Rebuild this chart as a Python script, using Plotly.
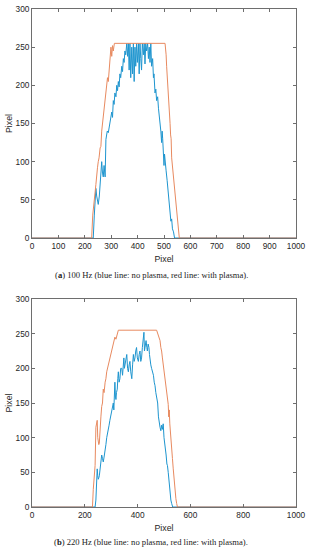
import plotly.graph_objects as go

# ---- data ----
top_orange_x = [0, 226, 230, 233, 236, 239, 242, 245, 248, 251, 254, 258, 261, 264, 267, 270, 273, 277, 280, 283, 286, 289, 293, 296, 299, 302, 305, 308, 312, 504, 506, 508, 510, 513, 516, 518, 520, 523, 525, 527, 529, 532, 535, 538, 542, 545, 548, 551, 554, 558, 1000]
top_orange_y = [0, 0, 30, 38, 45, 60, 70, 88, 92, 100, 105, 118, 120, 140, 150, 163, 168, 180, 192, 200, 210, 205, 225, 240, 250, 238, 252, 245, 255, 255, 250, 240, 225, 210, 195, 185, 175, 150, 135, 130, 105, 95, 85, 70, 62, 50, 42, 30, 18, 0, 0]

top_blue_x = [0, 232, 236, 239, 242, 245, 248, 251, 255, 258, 261, 264, 267, 270, 273, 277, 280, 283, 285, 289, 292, 295, 298, 302, 305, 308, 311, 314, 318, 321, 324, 327, 330, 333, 336, 340, 343, 346, 349, 352, 355, 359, 362, 365, 368, 371, 374, 378, 381, 384, 387, 390, 393, 396, 399, 403, 406, 409, 412, 415, 418, 422, 425, 428, 431, 434, 438, 441, 444, 447, 450, 453, 457, 460, 462, 466, 469, 472, 476, 479, 482, 485, 488, 491, 493, 495, 497, 500, 502, 504, 508, 512, 516, 520, 523, 526, 529, 532, 536, 540, 1000]
top_blue_y = [0, 0, 30, 55, 65, 55, 45, 44, 55, 70, 85, 100, 85, 80, 95, 80, 129, 135, 140, 138, 145, 150, 160, 165, 158, 180, 175, 190, 185, 200, 193, 205, 198, 215, 210, 225, 218, 235, 230, 245, 240, 255, 238, 255, 220, 255, 210, 250, 215, 255, 205, 250, 225, 255, 230, 255, 215, 255, 235, 220, 255, 240, 255, 228, 255, 245, 255, 235, 250, 230, 255, 225, 235, 210, 215, 190, 195, 180, 185, 170, 160, 155, 140, 125, 140, 130, 110, 95, 110, 100, 88, 75, 60, 45, 30, 22, 25, 12, 8, 0, 0]

bot_orange_x = [0, 229, 232, 235, 237, 239, 242, 244, 247, 249, 251, 253, 255, 258, 261, 264, 267, 270, 273, 277, 280, 283, 286, 289, 292, 295, 298, 302, 305, 308, 311, 314, 318, 321, 324, 327, 472, 476, 479, 482, 485, 488, 491, 494, 497, 500, 504, 507, 510, 513, 516, 518, 520, 522, 525, 527, 529, 532, 535, 538, 542, 545, 548, 551, 1000]
bot_orange_y = [0, 0, 25, 50, 45, 60, 115, 120, 125, 100, 94, 90, 92, 120, 130, 145, 150, 170, 165, 180, 185, 195, 200, 205, 210, 215, 222, 225, 232, 235, 240, 245, 242, 248, 250, 255, 255, 250, 245, 243, 240, 230, 225, 215, 205, 195, 185, 175, 165, 150, 148, 130, 140, 120, 100, 95, 82, 70, 55, 40, 25, 12, 5, 0, 0]

bot_blue_x = [0, 239, 242, 245, 247, 249, 251, 253, 255, 258, 261, 264, 267, 270, 273, 277, 280, 283, 286, 289, 292, 295, 298, 302, 305, 308, 310, 312, 314, 316, 318, 320, 323, 325, 327, 330, 333, 336, 340, 343, 346, 348, 350, 352, 355, 359, 362, 365, 368, 371, 374, 378, 381, 384, 387, 390, 393, 396, 399, 403, 406, 409, 412, 415, 418, 422, 424, 426, 429, 432, 435, 437, 440, 443, 445, 447, 450, 453, 456, 460, 463, 466, 469, 472, 476, 479, 482, 485, 488, 491, 494, 497, 500, 504, 506, 508, 511, 513, 516, 518, 520, 523, 526, 529, 533, 1000]
bot_blue_y = [0, 0, 10, 30, 55, 45, 40, 42, 45, 55, 68, 75, 70, 65, 72, 80, 90, 100, 105, 110, 118, 125, 130, 140, 145, 150, 140, 165, 180, 160, 155, 165, 170, 185, 195, 180, 185, 200, 200, 190, 205, 215, 200, 205, 210, 220, 200, 195, 205, 210, 195, 185, 205, 220, 210, 215, 225, 230, 215, 210, 220, 225, 210, 215, 230, 245, 252, 225, 235, 240, 230, 225, 235, 230, 220, 210, 205, 200, 195, 190, 180, 175, 165, 160, 150, 130, 120, 115, 110, 118, 112, 120, 100, 90, 80, 75, 62, 60, 50, 40, 30, 15, 10, 5, 0, 0]

x_ticks_top = [0, 100, 200, 300, 400, 500, 600, 700, 800, 900, 1000]
x_ticks_bot = [0, 200, 400, 600, 800, 1000]
y_ticks = [0, 50, 100, 150, 200, 250, 300]

caption_a = "(<b>a</b>) 100 Hz (blue line: no plasma, red line: with plasma)."
caption_b = "(<b>b</b>) 220 Hz (blue line: no plasma, red line: with plasma)."

BLUE = "#1e95cf"
ORANGE = "#e88a60"

fig = go.Figure()
fig.add_trace(go.Scatter(x=top_blue_x, y=top_blue_y, mode="lines",
                         line=dict(color=BLUE, width=1), xaxis="x", yaxis="y"))
fig.add_trace(go.Scatter(x=top_orange_x, y=top_orange_y, mode="lines",
                         line=dict(color=ORANGE, width=1), xaxis="x", yaxis="y"))
fig.add_trace(go.Scatter(x=bot_blue_x, y=bot_blue_y, mode="lines",
                         line=dict(color=BLUE, width=1), xaxis="x2", yaxis="y2"))
fig.add_trace(go.Scatter(x=bot_orange_x, y=bot_orange_y, mode="lines",
                         line=dict(color=ORANGE, width=1), xaxis="x2", yaxis="y2"))

W, H = 309, 550
xdom = [32 / W, 296 / W]
ydom_top = [1 - 238 / H, 1 - 9 / H]
ydom_bot = [1 - 507 / H, 1 - 299 / H]

tickfont = dict(family="Liberation Sans, Arial, sans-serif", size=8.3, color="#262626")
titlefont = dict(family="Liberation Sans, Arial, sans-serif", size=8.8, color="#262626")
common = dict(showgrid=False, zeroline=False, showline=True, linecolor="#6e6e6e",
              linewidth=0.8, mirror="ticks", ticks="inside", ticklen=3,
              tickcolor="#6e6e6e", tickwidth=0.8, tickfont=tickfont, automargin=False)

fig.update_layout(
    template="none",
    width=W, height=H,
    margin=dict(l=0, r=0, t=0, b=0),
    paper_bgcolor="white", plot_bgcolor="white",
    showlegend=False,
    xaxis=dict(domain=xdom, anchor="y", range=[0, 1000], tickvals=x_ticks_top,
               title=dict(text="Pixel", font=titlefont, standoff=5), **common),
    yaxis=dict(domain=ydom_top, anchor="x", range=[0, 300], tickvals=y_ticks,
               title=dict(text="Pixel", font=titlefont, standoff=1), **common),
    xaxis2=dict(domain=xdom, anchor="y2", range=[0, 1000], tickvals=x_ticks_bot,
                title=dict(text="Pixel", font=titlefont, standoff=5), **common),
    yaxis2=dict(domain=ydom_bot, anchor="x2", range=[0, 300], tickvals=y_ticks,
                title=dict(text="Pixel", font=titlefont, standoff=1), **common),
    annotations=[
        dict(text=caption_a, xref="paper", yref="paper", x=0.49, y=1 - 275 / H,
             showarrow=False, xanchor="center", yanchor="middle",
             font=dict(family="Liberation Serif, Times New Roman, serif", size=8.6, color="#222222")),
        dict(text=caption_b, xref="paper", yref="paper", x=0.49, y=1 - 542 / H,
             showarrow=False, xanchor="center", yanchor="middle",
             font=dict(family="Liberation Serif, Times New Roman, serif", size=8.6, color="#222222")),
    ],
)

fig.write_html("out.html", config={"displayModeBar": False})

# remove the browser's default page margin so the figure sits at (0, 0)
with open("out.html", "r", encoding="utf-8") as f:
    html = f.read()
html = html.replace("<head>", "<head><style>html,body{margin:0;padding:0;overflow:hidden;}</style>", 1)
with open("out.html", "w", encoding="utf-8") as f:
    f.write(html)
